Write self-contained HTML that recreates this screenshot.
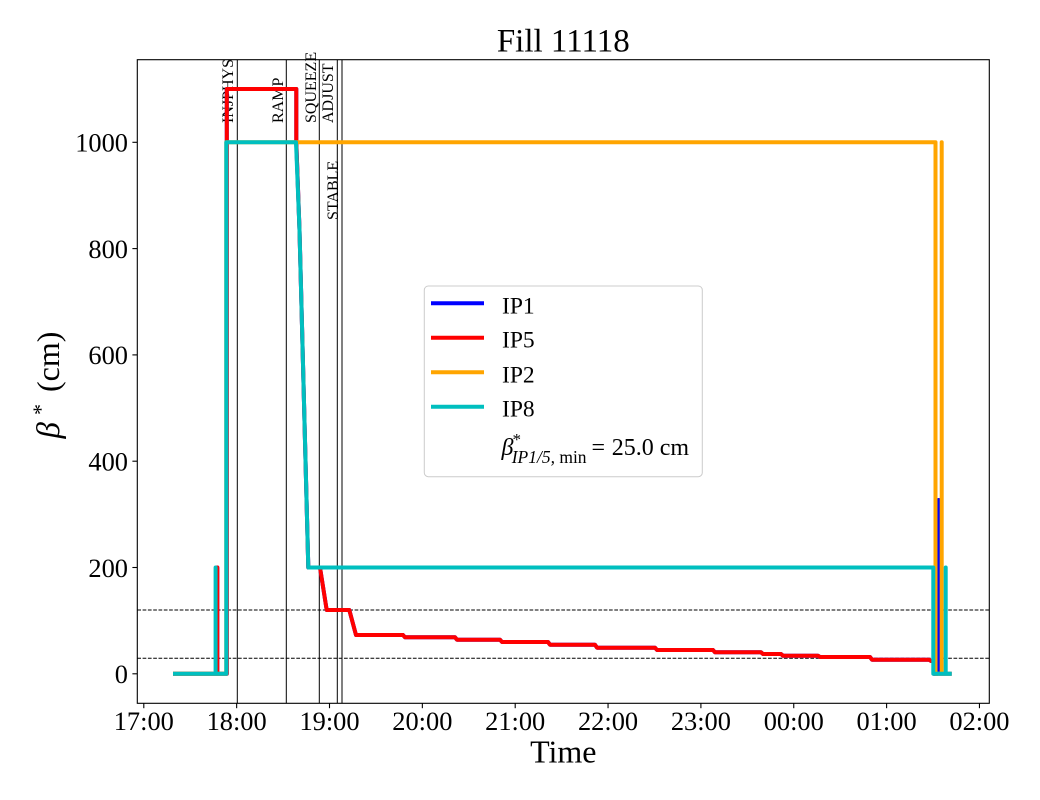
<!DOCTYPE html>
<html>
<head>
<meta charset="utf-8">
<style>
  html, body { margin:0; padding:0; background:#fff; }
  svg { display:block; }
  text { font-family: "Liberation Serif", "DejaVu Serif", serif; fill:#000; }
</style>
</head>
<body>
<svg width="1040" height="800" viewBox="0 0 1040 800" xmlns="http://www.w3.org/2000/svg">
  <rect x="0" y="0" width="1040" height="800" fill="#fff"/>

  <!-- Title -->
  <text x="563.3" y="51.7" font-size="33" text-anchor="middle">Fill 11118</text>

  <!-- dashed reference lines -->
  <line x1="137.3" y1="610.0" x2="989.3" y2="610.0" stroke="#000" stroke-width="1" stroke-dasharray="3.7,1.6"/>
  <line x1="137.3" y1="658.3" x2="989.3" y2="658.3" stroke="#000" stroke-width="1" stroke-dasharray="3.7,1.6"/>

  <!-- vertical mode lines -->
  <g stroke="#000" stroke-width="1">
    <line x1="237.3" y1="59.7" x2="237.3" y2="703.3"/>
    <line x1="286.3" y1="59.7" x2="286.3" y2="703.3"/>
    <line x1="319.3" y1="59.7" x2="319.3" y2="703.3"/>
    <line x1="337.3" y1="59.7" x2="337.3" y2="703.3"/>
    <line x1="342.0" y1="59.7" x2="342.0" y2="703.3"/>
  </g>

  <!-- mode labels -->
  <g font-size="16">
    <text transform="translate(232.8,123) rotate(-90)">INJPHYS</text>
    <text transform="translate(283.0,123) rotate(-90)">RAMP</text>
    <text transform="translate(315.8,123) rotate(-90)">SQUEEZE</text>
    <text transform="translate(333.2,123) rotate(-90)">ADJUST</text>
    <text transform="translate(338.0,220) rotate(-90)">STABLE</text>
  </g>

  <!-- Series -->
  <g fill="none" stroke-width="4" stroke-linecap="square" stroke-linejoin="round">
    <!-- IP1 blue -->
    <path stroke="#0000ff" d="M175,673.8 H217.3 V567.5 V673.8 H226.8 V89 H296.3 V142.3 L299.5,230 L308.3,567.5 H320 L326.7,610 H349.3 L356,635 H403 L405,637.3 H455 L457,639.7 H500 L502,642 H548 L550,644.7 H595 L597,647.7 H655 L657,650 H713 L715,652.3 H761 L763,654 H781 L783,655.7 H818 L820,657 H870 L872,659.7 H929 L931,661 H934 V673.8 H938.7 V500 V673.8 H949.7"/>
    <!-- IP5 red -->
    <path stroke="#ff0000" d="M175,673.8 H217.3 V567.5 V673.8 H226.8 V89 H296.3 V142.3 L299.5,230 L308.3,567.5 H320 L326.7,610 H349.3 L356,635 H403 L405,637.3 H455 L457,639.7 H500 L502,642 H548 L550,644.7 H595 L597,647.7 H655 L657,650 H713 L715,652.3 H761 L763,654 H781 L783,655.7 H818 L820,657 H870 L872,659.7 H929 L931,661 H934 V673.8 H936"/>
    <!-- IP2 orange -->
    <path stroke="#ffa500" d="M175,673.8 H226.3 V142.3 H935.5 V673.8 H941.7 V142.3 V673.8 H949.7"/>
    <!-- IP8 teal -->
    <path stroke="#00bfbf" d="M175,673.8 H215.6 V567.5 V673.8 H226.3 V142.3 H296 L299.5,230 L308.3,567.5 H933.3 V673.8 H945.7 V567.5 V673.8 H949.7"/>
  </g>

  <!-- Axes frame -->
  <rect x="137.3" y="59.7" width="852" height="643.6" fill="none" stroke="#000" stroke-width="1.1"/>

  <!-- Y ticks -->
  <g stroke="#000" stroke-width="1.1">
    <line x1="132.4" y1="673.8" x2="137.3" y2="673.8"/>
    <line x1="132.4" y1="567.5" x2="137.3" y2="567.5"/>
    <line x1="132.4" y1="461.2" x2="137.3" y2="461.2"/>
    <line x1="132.4" y1="354.9" x2="137.3" y2="354.9"/>
    <line x1="132.4" y1="248.6" x2="137.3" y2="248.6"/>
    <line x1="132.4" y1="142.3" x2="137.3" y2="142.3"/>
  </g>
  <g font-size="26.4" text-anchor="end">
    <text x="128" y="683.1">0</text>
    <text x="128" y="576.8">200</text>
    <text x="128" y="470.5">400</text>
    <text x="128" y="364.2">600</text>
    <text x="128" y="257.9">800</text>
    <text x="128" y="151.6">1000</text>
  </g>

  <!-- X ticks -->
  <g stroke="#000" stroke-width="1.1">
    <line x1="143.8" y1="703.3" x2="143.8" y2="708.2"/>
    <line x1="236.65" y1="703.3" x2="236.65" y2="708.2"/>
    <line x1="329.5" y1="703.3" x2="329.5" y2="708.2"/>
    <line x1="422.35" y1="703.3" x2="422.35" y2="708.2"/>
    <line x1="515.2" y1="703.3" x2="515.2" y2="708.2"/>
    <line x1="608.05" y1="703.3" x2="608.05" y2="708.2"/>
    <line x1="700.9" y1="703.3" x2="700.9" y2="708.2"/>
    <line x1="793.75" y1="703.3" x2="793.75" y2="708.2"/>
    <line x1="886.6" y1="703.3" x2="886.6" y2="708.2"/>
    <line x1="979.45" y1="703.3" x2="979.45" y2="708.2"/>
  </g>
  <g font-size="26.4" text-anchor="middle">
    <text x="143.8" y="730">17:00</text>
    <text x="236.65" y="730">18:00</text>
    <text x="329.5" y="730">19:00</text>
    <text x="422.35" y="730">20:00</text>
    <text x="515.2" y="730">21:00</text>
    <text x="608.05" y="730">22:00</text>
    <text x="700.9" y="730">23:00</text>
    <text x="793.75" y="730">00:00</text>
    <text x="886.6" y="730">01:00</text>
    <text x="979.45" y="730">02:00</text>
  </g>

  <!-- Axis labels -->
  <text x="563.3" y="762.7" font-size="32" text-anchor="middle">Time</text>
  <text transform="translate(59,438.5) rotate(-90)" font-size="33" font-style="italic">β</text>
  <text transform="translate(48,415) rotate(-90)" font-size="22">*</text>
  <text transform="translate(59,392) rotate(-90)" font-size="32">(cm)</text>

  <!-- Legend -->
  <rect x="424.3" y="286" width="278" height="190.7" rx="4" ry="4" fill="#fff" fill-opacity="0.8" stroke="#cccccc" stroke-width="1"/>
  <g stroke-width="4" stroke-linecap="butt">
    <line x1="431" y1="303.3" x2="484" y2="303.3" stroke="#0000ff"/>
    <line x1="431" y1="337.7" x2="484" y2="337.7" stroke="#ff0000"/>
    <line x1="431" y1="372.3" x2="484" y2="372.3" stroke="#ffa500"/>
    <line x1="431" y1="406.7" x2="484" y2="406.7" stroke="#00bfbf"/>
  </g>
  <g font-size="23.5">
    <text x="502" y="313.3">IP1</text>
    <text x="502" y="347.7">IP5</text>
    <text x="502" y="382.3">IP2</text>
    <text x="502" y="416.7">IP8</text>
  </g>
  <text x="501.5" y="455" font-size="24" font-style="italic">β</text>
  <text x="512.5" y="445" font-size="17">*</text>
  <text x="511.7" y="463" font-size="17.5"><tspan font-style="italic">IP1/5,</tspan><tspan> min</tspan></text>
  <text x="591.5" y="455" font-size="24">=</text>
  <text x="611.7" y="455" font-size="24">25.0 cm</text>
</svg>
</body>
</html>
